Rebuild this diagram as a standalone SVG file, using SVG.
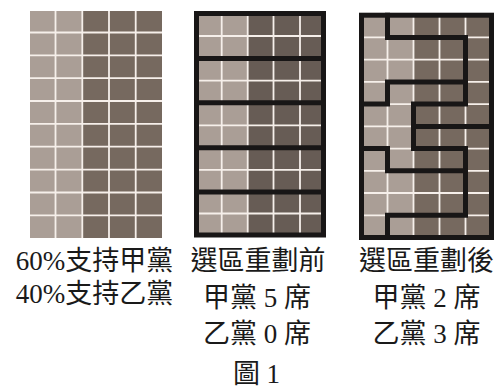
<svg xmlns="http://www.w3.org/2000/svg" width="499" height="389" viewBox="0 0 499 389">
<style>
.light{fill:#aa9e96}
.dark{fill:#76695f}
.dark2{fill:#675c55}
.grid{stroke:#f6efea;stroke-width:1.8;fill:none}
.dist{stroke:#181616;stroke-width:5;fill:none;stroke-linecap:square;stroke-linejoin:miter}
.lbl{font-family:"Liberation Serif","Noto Sans CJK TC","Noto Sans CJK SC",serif;font-size:27px;fill:#1a1a1a}
</style>
<rect width="499" height="389" fill="#ffffff"/>

<g id="panel-uniform">
<rect class="light" x="30" y="11" width="52.3" height="227"/>
<rect class="dark" x="82.3" y="11" width="79.7" height="227"/>
<path class="grid" d="M55.5,11V238M82.3,11V238M109,11V238M135.7,11V238M30,32.5H162M30,55.3H162M30,78.2H162M30,101H162M30,123.9H162M30,146.7H162M30,169.6H162M30,192.5H162M30,215.4H162"/>
</g>

<g id="panel-before">
<rect class="light" x="196.5" y="13.5" width="51.2" height="221.5"/>
<rect class="dark2" x="247.7" y="13.5" width="76" height="221.5"/>
<path class="grid" d="M221.7,13.5V235M247.7,13.5V235M273.5,13.5V235M300,13.5V235M196.5,36H323.5M196.5,80.6H323.5M196.5,125.3H323.5M196.5,169.9H323.5M196.5,213.5H323.5"/>
<rect class="dist" x="196.5" y="13.5" width="127" height="221.5"/>
<path class="dist" d="M196.5,58.5H323.5M196.5,102.8H323.5M196.5,147.8H323.5M196.5,192H323.5"/>
</g>

<g id="panel-after">
<rect class="light" x="361.5" y="15.2" width="52" height="222.3"/>
<rect class="dark" x="413.5" y="15.2" width="78" height="222.3"/>
<path class="grid" d="M387.5,15.2V237.5M413.5,15.2V237.5M439.5,15.2V237.5M465.5,15.2V237.5M361.5,37.4H491.5M361.5,59.7H491.5M361.5,81.9H491.5M361.5,104.1H491.5M361.5,126.4H491.5M361.5,148.6H491.5M361.5,170.8H491.5M361.5,193H491.5M361.5,215.3H491.5"/>
<rect class="dist" x="361.5" y="15.2" width="130" height="222.3"/>
<path class="dist" d="M387.5,15.2V37.4H465.5V104.1H413.5V148.6H465.5V215.3H387.5V237.5"/>
<path class="dist" d="M361.5,104.1H387.5V81.9H465.5"/>
<path class="dist" d="M413.5,126.4H491.5"/>
<path class="dist" d="M361.5,148.6H387.5V170.8H465.5"/>
</g>

<g id="labels">
<text class="lbl" x="94.5" y="270" text-anchor="middle" font-size="28">60%支持甲黨</text>
<text class="lbl" x="94.5" y="303" text-anchor="middle" font-size="28">40%支持乙黨</text>
<text class="lbl" x="258" y="270" text-anchor="middle">選區重劃前</text>
<text class="lbl" x="257" y="307" text-anchor="middle">甲黨 5 席</text>
<text class="lbl" x="257" y="343" text-anchor="middle">乙黨 0 席</text>
<text class="lbl" x="426.5" y="270" text-anchor="middle">選區重劃後</text>
<text class="lbl" x="426.5" y="307" text-anchor="middle">甲黨 2 席</text>
<text class="lbl" x="426.5" y="343" text-anchor="middle">乙黨 3 席</text>
<text class="lbl" x="256.5" y="383" text-anchor="middle">圖 1</text>
</g>
</svg>
